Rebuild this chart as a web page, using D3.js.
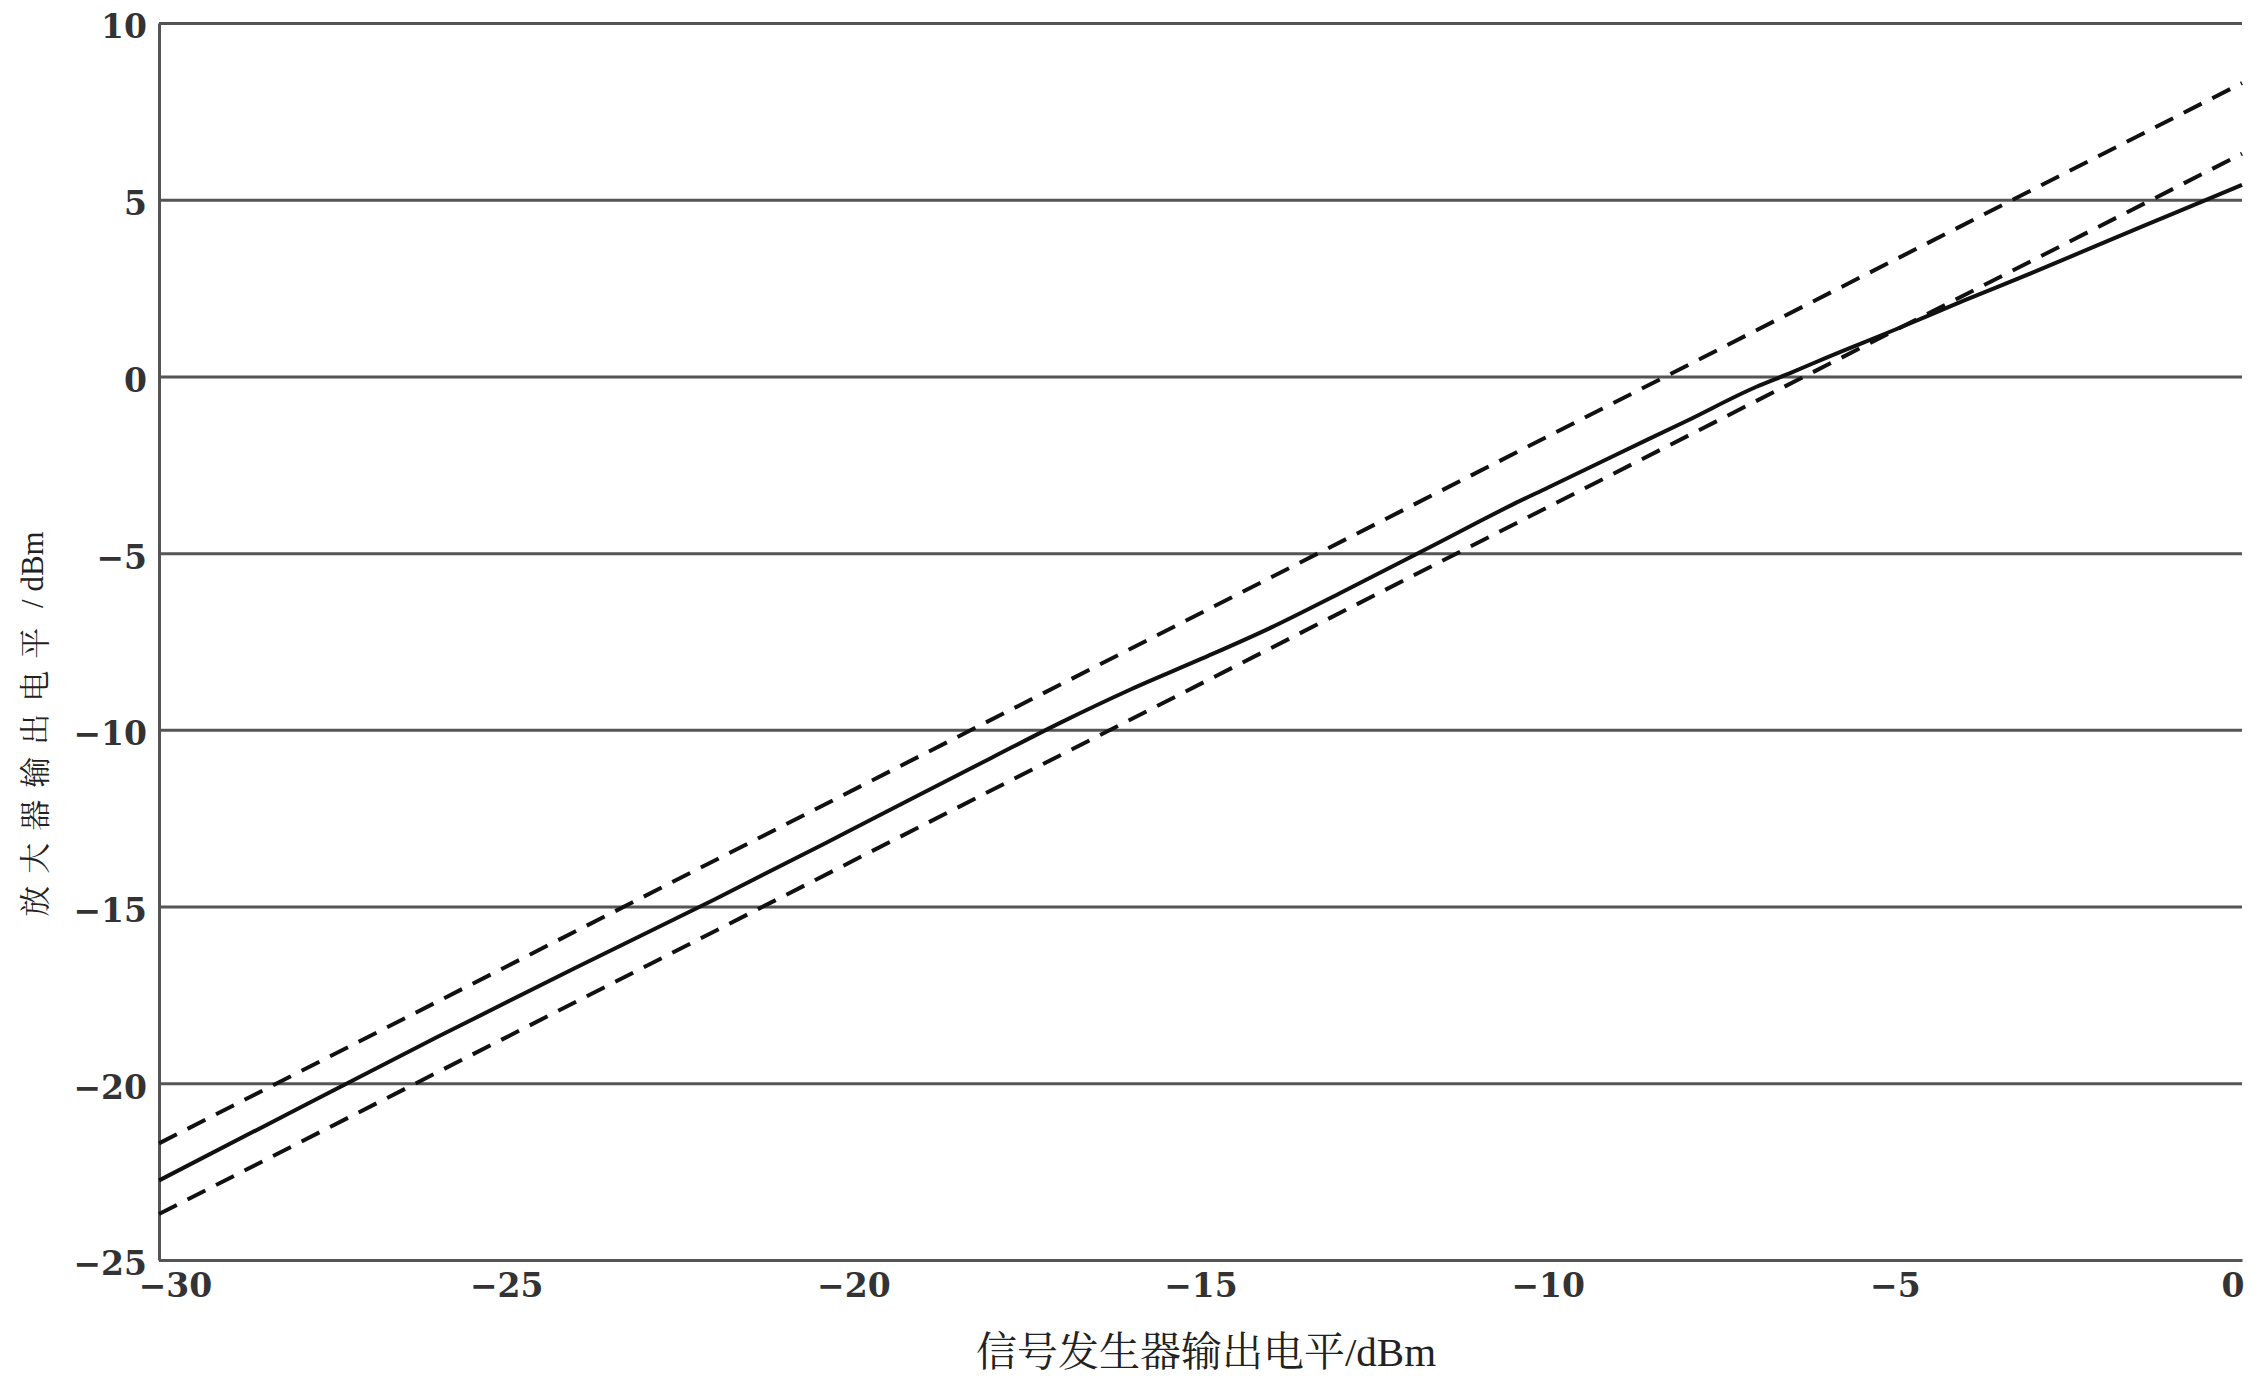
<!DOCTYPE html>
<html>
<head>
<meta charset="utf-8">
<script src="https://cdn.jsdelivr.net/npm/d3@7"></script>
<style>
  html, body { margin: 0; padding: 0; background: #fff; }
  svg { display: block; }
</style>
</head>
<body>
<svg id="chart" width="2259" height="1380"></svg>
<script>
// ---- data ----
const xTicks = [-30, -25, -20, -15, -10, -5, 0];
const yTicks = [10, 5, 0, -5, -10, -15, -20, -25];

// measured amplifier output (solid line)
const inputLevel = [-30, -28, -26, -24, -22, -20, -18, -17, -16, -15, -14, -13, -12, -11, -10.5, -10, -9, -8, -7, -6.5, -6, -5, -4, -3, -2, -1, 0];
const measuredOutput = [-22.75, -20.72, -18.7, -16.73, -14.8, -12.8, -10.78, -9.78, -8.85, -8.0, -7.12, -6.14, -5.14, -4.12, -3.62, -3.15, -2.2, -1.26, -0.3, 0.1, 0.52, 1.32, 2.15, 2.95, 3.78, 4.6, 5.42];

// limit lines (dashed)
const limitInput = [-30, 0];
const upperLimit = [-21.7, 8.3];
const lowerLimit = [-23.7, 6.3];

const xTitle = "信号发生器输出电平/dBm";
const yTitleCJK = "放大器输出电平";
const yTitleUnit = " / dBm";

// ---- layout ----
const svg = d3.select("#chart");
const margin = { left: 159, right: 17, top: 23, bottom: 120 };
const W = 2259 - margin.left - margin.right;
const H = 1380 - margin.top - margin.bottom;

const x = d3.scaleLinear().domain([-30, 0]).range([0, W]);
const y = d3.scaleLinear().domain([-25, 10]).range([H, 0]);

const g = svg.append("g").attr("transform", `translate(${margin.left},${margin.top})`);

const gridColor = "#555";
const tickFont = "'DejaVu Serif', serif";

// y axis with gridlines
const yAxis = g.append("g")
  .call(d3.axisLeft(y).tickValues(yTicks).tickSizeInner(-W).tickSizeOuter(0).tickPadding(12));
yAxis.select(".domain").attr("stroke", gridColor).attr("stroke-width", 3);
yAxis.selectAll(".tick line").attr("stroke", gridColor).attr("stroke-width", 3);
yAxis.selectAll(".tick text")
  .attr("font-family", tickFont).attr("font-weight", "bold").attr("font-size", 33)
  .attr("fill", "#333").attr("dy", "0.45em");

// x axis
const xAxis = g.append("g").attr("transform", `translate(0,${H})`)
  .call(d3.axisBottom(x).tickValues(xTicks).tickSize(0).tickPadding(12));
xAxis.select(".domain").attr("stroke", gridColor).attr("stroke-width", 3);
xAxis.selectAll(".tick text")
  .attr("font-family", tickFont).attr("font-weight", "bold").attr("font-size", 33)
  .attr("fill", "#333").attr("dy", "0.75em");
xAxis.selectAll(".tick text").filter(d => d === -30).attr("dx", 16);
xAxis.selectAll(".tick text").filter(d => d === 0).attr("text-anchor", "end").attr("dx", 2);

// lines
const line = d3.line().x(d => x(d[0])).y(d => y(d[1]));

const measuredPts = inputLevel.map((v, i) => [v, measuredOutput[i]]);
const upperPts = limitInput.map((v, i) => [v, upperLimit[i]]);
const lowerPts = limitInput.map((v, i) => [v, lowerLimit[i]]);

[upperPts, lowerPts].forEach(pts => {
  g.append("path").datum(pts).attr("d", line)
    .attr("fill", "none").attr("stroke", "#111").attr("stroke-width", 4)
    .attr("stroke-dasharray", "20,12");
});
g.append("path").datum(measuredPts).attr("d", d3.line().x(d => x(d[0])).y(d => y(d[1])).curve(d3.curveMonotoneX))
  .attr("fill", "none").attr("stroke", "#111").attr("stroke-width", 4);

// axis titles
svg.append("text")
  .attr("x", 1206).attr("y", 1366)
  .attr("text-anchor", "middle")
  .attr("font-size", 41).attr("fill", "#222")
  .attr("font-family", "'Noto Serif CJK SC', 'Noto Sans CJK SC', serif")
  .text(xTitle.replace("/dBm", ""))
  .append("tspan").attr("font-family", "'Liberation Serif', serif").text("/dBm");

const yt = svg.append("text")
  .attr("transform", "translate(32,724) rotate(-90)")
  .attr("text-anchor", "middle").attr("dominant-baseline", "central")
  .attr("font-size", 31).attr("fill", "#222");
yt.append("tspan").attr("font-family", "'Noto Serif CJK SC', 'Noto Sans CJK SC', serif")
  .attr("letter-spacing", 12).text(yTitleCJK);
yt.append("tspan").attr("font-family", "'Liberation Serif', serif").text(yTitleUnit);
</script>
</body>
</html>
